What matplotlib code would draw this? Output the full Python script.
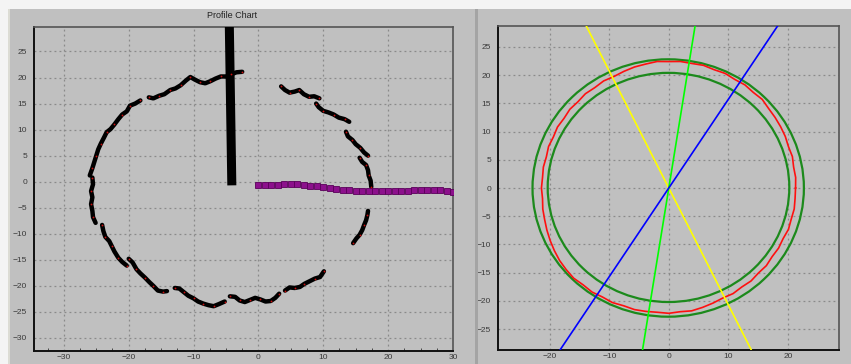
import numpy as np
import matplotlib
matplotlib.use("Agg")
import matplotlib.pyplot as plt
from matplotlib.patches import Circle, Rectangle

# ---------------- data: left "Profile Chart" ----------------
seg_a = [(-16.9,16.2),(-16.2,16.0),(-15.3,16.5),(-14.5,16.8),(-13.6,17.6),(-12.8,17.9),(-12.0,18.5),
         (-11.2,19.4),(-10.5,20.1),(-9.8,19.6),(-9.0,19.1),(-8.2,18.9),(-7.4,19.3),(-6.6,19.8),
         (-5.8,20.2),(-5.0,20.2),(-4.2,20.6),(-3.4,21.0),(-2.5,21.1)]
seg_b = [(-18.2,15.6),(-19.0,15.0),(-19.8,14.6),(-20.3,13.5),(-21.0,12.9),(-21.6,12.0),(-22.2,11.0),
         (-22.8,10.1),(-23.4,9.5),(-23.8,8.5),(-24.3,7.3),(-24.7,6.2),(-25.0,5.0),(-25.3,3.8),
         (-25.6,2.6),(-26.0,1.2)]
seg_c = [(-25.6,0.8),(-25.5,-0.5),(-25.8,-1.8),(-25.6,-3.0),(-25.8,-4.3),(-25.6,-5.6),(-25.5,-6.8),(-25.1,-7.9)]
seg_d = [(-24.1,-8.3),(-23.9,-9.5),(-23.6,-10.6),(-23.0,-11.4),(-22.6,-12.4),(-22.2,-13.4),(-21.6,-14.6),
         (-21.0,-15.4),(-20.3,-16.1)]
seg_e = [(-20.0,-14.8),(-19.4,-15.5),(-18.8,-16.8),(-18.2,-17.6),(-17.5,-18.4),(-16.8,-19.3),(-16.2,-20.0),
         (-15.5,-20.9),(-14.7,-21.1),(-14.1,-21.0)]
seg_f = [(-12.9,-20.4),(-12.2,-20.5),(-11.5,-21.2),(-10.8,-21.9),(-10.0,-22.4),(-9.3,-23.0),(-8.5,-23.4),
         (-7.7,-23.7),(-6.9,-23.9),(-6.1,-23.5),(-5.2,-23.0)]
seg_g = [(-4.4,-22.0),(-3.6,-22.1),(-2.9,-22.8),(-2.1,-23.1),(-1.3,-22.7),(-0.5,-22.3),(0.3,-22.6),
         (1.1,-23.0),(1.9,-22.9),(2.6,-22.3),(3.2,-21.5)]
seg_h = [(4.1,-20.9),(4.8,-20.3),(5.6,-20.4),(6.4,-20.2),(7.1,-19.6),(7.9,-19.1),(8.7,-18.6),(9.5,-18.3),(10.1,-17.2)]
seg_i = [(14.6,-11.8),(15.1,-10.9),(15.6,-10.2),(16.0,-9.3),(16.3,-8.3),(16.6,-7.4),(16.8,-6.4),(16.9,-5.6)]
seg_j = [(15.6,4.6),(16.0,3.8),(16.6,3.2),(16.9,2.2),(17.0,1.2),(17.3,0.2),(17.4,-1.0)]
seg_k = [(13.5,9.6),(13.8,8.7),(14.5,8.0),(15.0,7.2),(15.7,6.5),(16.3,5.6),(16.9,5.0)]
seg_l = [(8.9,15.0),(9.3,14.3),(10.0,13.6),(10.8,13.3),(11.6,12.9),(12.4,12.3),(13.3,12.0),(14.0,11.5)]
seg_m = [(3.5,18.3),(4.1,17.6),(4.8,17.1),(5.6,17.3),(6.3,17.6),(7.0,16.8),(7.8,16.3),(8.6,16.4),(9.4,16.0)]
profile_segments = [seg_a, seg_b, seg_c, seg_d, seg_e, seg_f, seg_g, seg_h, seg_i, seg_j, seg_k, seg_l, seg_m]

bar_x = [-4.5, -4.1]
bar_y = [31.0, -0.7]

purple_x = list(range(0, 31))
purple_y = [-0.65,-0.65,-0.65,-0.6,-0.5,-0.45,-0.5,-0.6,-0.75,-0.9,-1.0,-1.15,-1.35,-1.5,-1.6,-1.7,
            -1.75,-1.85,-1.85,-1.85,-1.85,-1.75,-1.7,-1.7,-1.6,-1.55,-1.5,-1.55,-1.6,-1.8,-2.0]

left_xticks = [-30, -20, -10, 0, 10, 20, 30]
left_yticks = [25, 20, 15, 10, 5, 0, -5, -10, -15, -20, -25, -30]

# ---------------- data: right chart ----------------
red_angles = list(range(0, 360, 5))
red_radius = [21.3,21.4,21.3,21.5,21.4,21.6,21.7,21.8,21.9,22.2,22.1,22.3,22.2,22.4,22.3,22.5,22.4,22.5,
              22.4,22.5,22.3,22.2,22.0,21.8,21.9,21.7,21.8,21.6,21.7,21.5,21.6,21.4,21.5,21.3,21.4,21.3,
              21.4,21.3,21.5,21.6,21.8,22.0,22.2,22.4,22.5,22.6,22.4,22.5,22.3,22.4,22.2,22.3,22.2,22.1,
              22.2,22.0,22.1,21.9,21.7,21.5,21.6,21.4,21.5,21.3,21.4,21.2,21.3,21.2,21.4,21.3,21.4,21.3]
outer_center = (-0.1, 0.0)
outer_radius = 22.8
inner_center = (-0.05, 0.1)
inner_radius = 20.3
line_slopes = [-2.07, 6.5, 1.57]
line_colors = ["#ffff00", "#00ff00", "#0000ff"]

right_xticks = [-20, -10, 0, 10, 20]
right_yticks = [25, 20, 15, 10, 5, 0, -5, -10, -15, -20, -25]

# ---------------- figure ----------------
W, H = 851, 364
BG = "#c0c0c0"
fig = plt.figure(figsize=(W / 100, H / 100), dpi=100, facecolor=BG)
plt.rcParams["font.family"] = ["Liberation Sans", "DejaVu Sans"]

def px_rect(x0, y0, x1, y1, color):
    fig.patches.append(Rectangle((x0 / W, 1 - y1 / H), (x1 - x0) / W, (y1 - y0) / H,
                                 transform=fig.transFigure, facecolor=color, edgecolor="none", zorder=0))

px_rect(0, 0, W, 9, "#f4f4f4")
px_rect(0, 0, 8, H, "#f4f4f4")
px_rect(8, 9, 10, H, "#dcdcd4")
px_rect(475, 9, 478, H, "#a4a4a4")

def style(ax, xt, yt):
    ax.set_facecolor(BG)
    ax.set_xticks(xt)
    ax.set_yticks(yt)
    ax.grid(True, color="#8a8a8a", linestyle=(0, (1.5, 2.5)), linewidth=0.9)
    ax.set_axisbelow(True)
    ax.tick_params(axis="both", which="major", length=0, pad=5, labelsize=6, labelcolor="#3a3a3a")
    ax.tick_params(axis="x", which="major", pad=2.5)
    for s in ("left", "bottom"):
        ax.spines[s].set_color("#111111")
        ax.spines[s].set_linewidth(1.4)
    for s in ("top", "right"):
        ax.spines[s].set_color("#555555")
        ax.spines[s].set_linewidth(1.2)

# Left chart
axL = fig.add_axes([34 / W, 1 - 351 / H, 419 / W, 324 / H])
style(axL, left_xticks, left_yticks)
axL.set_xlim(-34.6, 30.0)
axL.set_ylim(-32.5, 29.7)
axL.set_xticks(np.arange(-32.5, 30.1, 2.5), minor=True)
axL.tick_params(axis="x", which="minor", direction="in", length=2.5, color="#333333")
fig.text(232 / W, 1 - 15 / H, "Profile Chart", ha="center", va="center", fontsize=6.5, color="#222222")

for seg in profile_segments:
    xs = [p[0] for p in seg]
    ys = [p[1] for p in seg]
    axL.plot(xs, ys, color="black", linewidth=3.2, solid_capstyle="round", solid_joinstyle="round", zorder=3)
    axL.plot(xs[::2], ys[::2], linestyle="none", marker="o", markersize=1.3,
             markeredgewidth=0, color="#c81010", zorder=4)

axL.plot(bar_x, bar_y, color="black", linewidth=6.5, solid_capstyle="butt", zorder=3)
axL.plot(purple_x, purple_y, linestyle="none", marker="s", markersize=4.9,
         markerfacecolor="#8c108c", markeredgecolor="#5a005a", markeredgewidth=0.6, zorder=3)

# Right chart
axR = fig.add_axes([498 / W, 1 - 350 / H, 341 / W, 324 / H])
style(axR, right_xticks, right_yticks)
axR.set_xlim(-28.7, 28.6)
axR.set_ylim(-28.7, 28.7)

axR.add_patch(Circle(outer_center, outer_radius, fill=False, edgecolor="#1c8a1c", linewidth=1.6, zorder=3))
axR.add_patch(Circle(inner_center, inner_radius, fill=False, edgecolor="#1c8a1c", linewidth=1.6, zorder=3))

ang = np.deg2rad(np.array(red_angles + [red_angles[0]]))
rad = np.array(red_radius + [red_radius[0]])
axR.plot(rad * np.cos(ang), rad * np.sin(ang), color="#ff1010", linewidth=1.2, zorder=4)

for slope, col in zip(line_slopes, line_colors):
    axR.axline((0, 0), slope=slope, color=col, linewidth=1.2, zorder=5)

fig.savefig("out.png", dpi=100, facecolor=BG)
